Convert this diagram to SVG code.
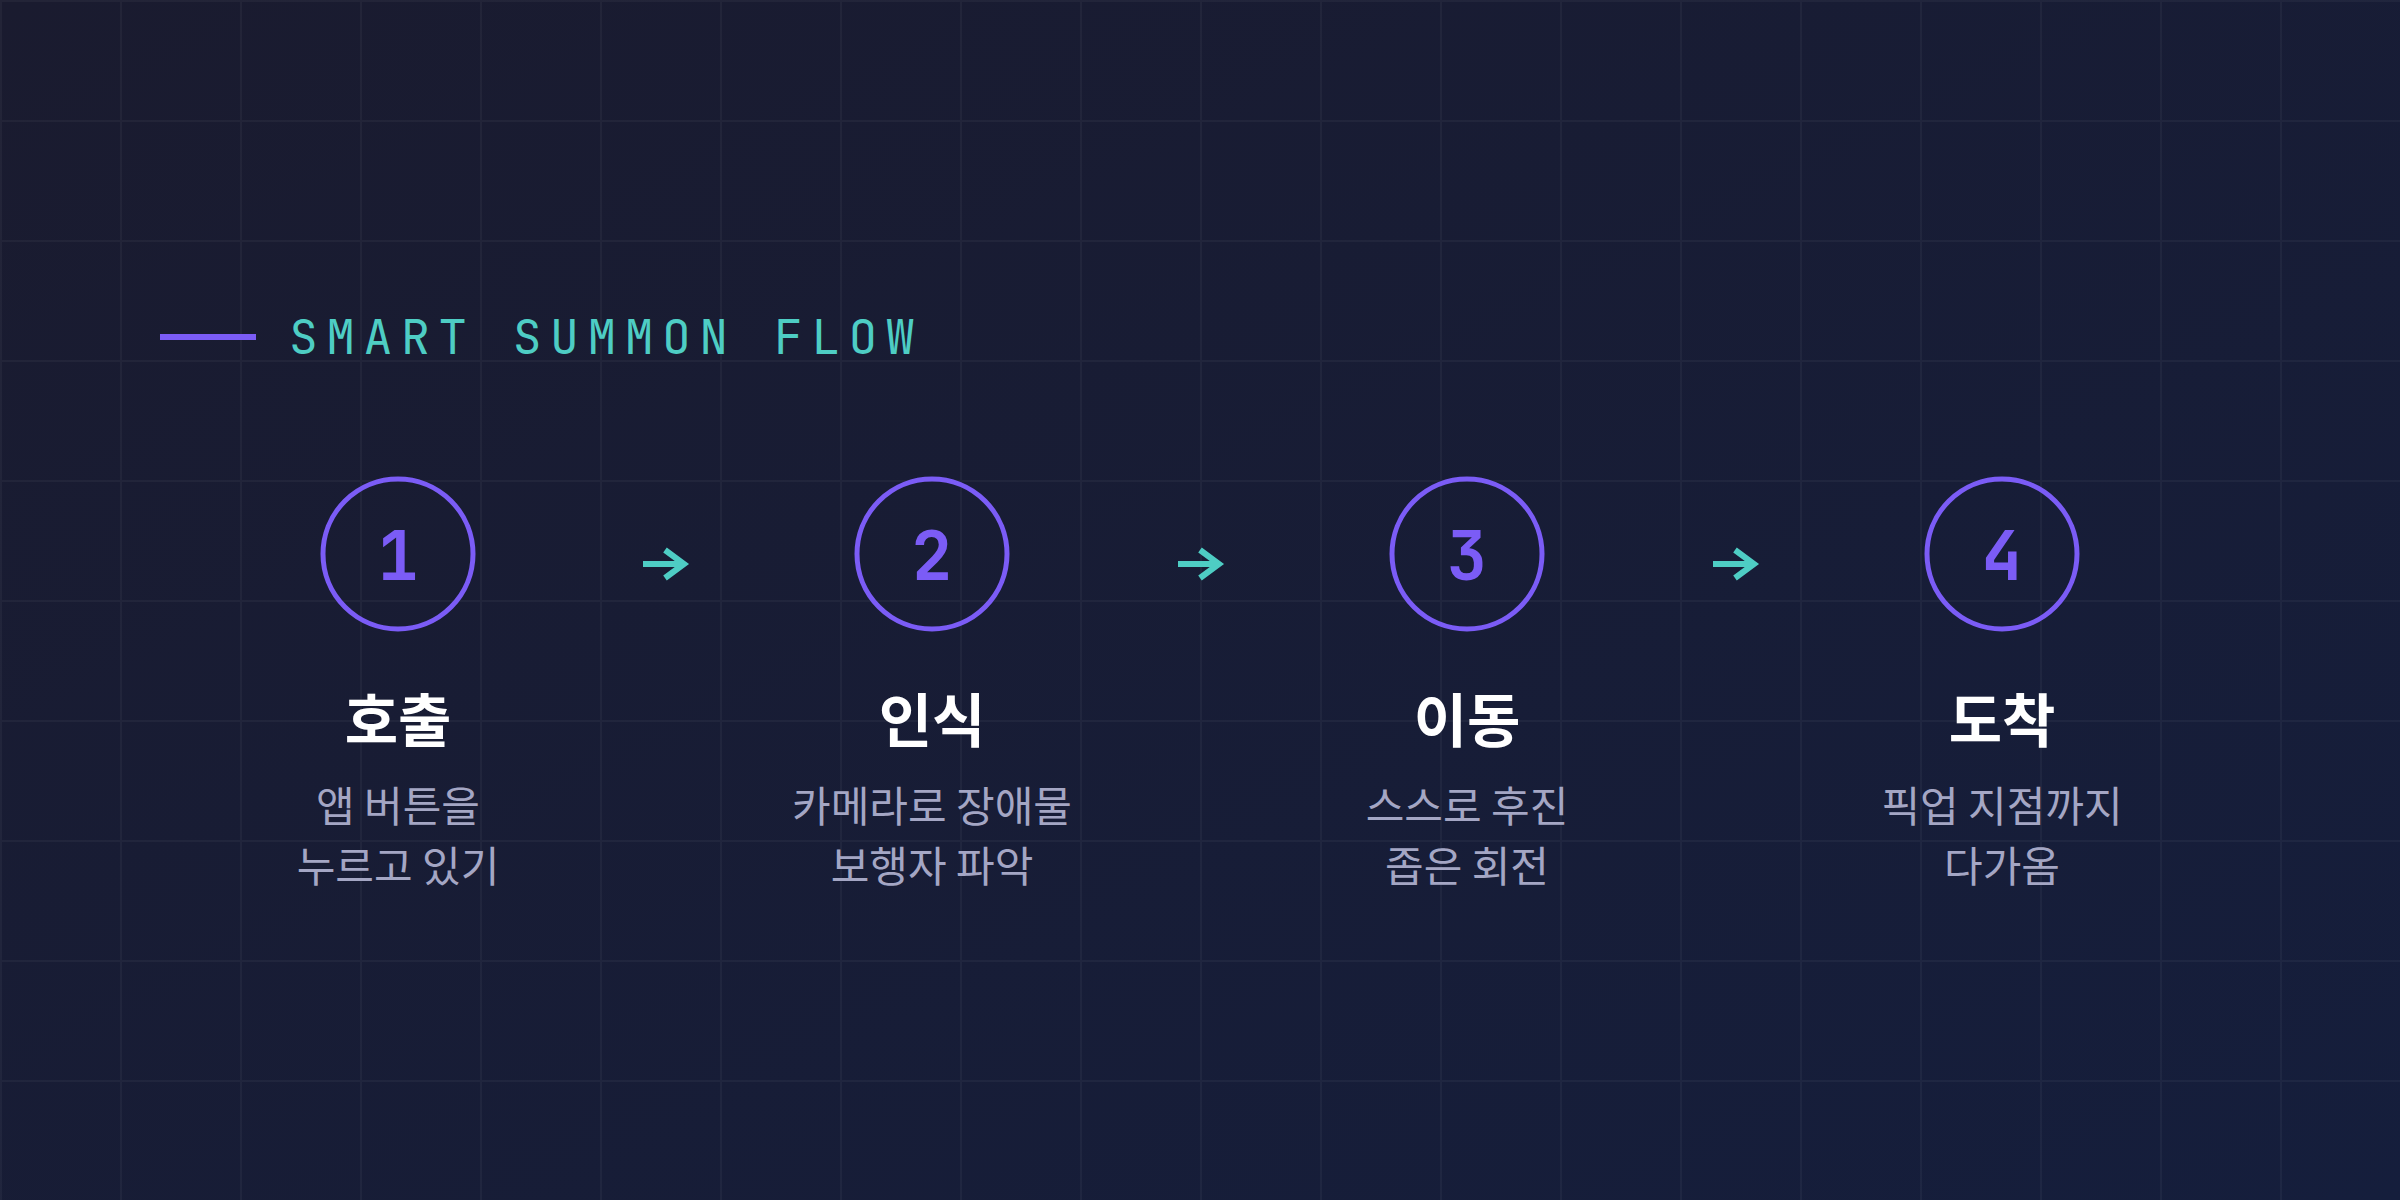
<svg xmlns="http://www.w3.org/2000/svg" width="2400" height="1200" viewBox="0 0 2400 1200">
<defs>
<linearGradient id="bg" x1="0" y1="0" x2="1" y2="1">
<stop offset="0" stop-color="#1a1b2f"/>
<stop offset="1" stop-color="#151e3c"/>
</linearGradient>
<pattern id="grid" x="0" y="0" width="120" height="120" patternUnits="userSpaceOnUse">
<rect x="0" y="0" width="2" height="120" fill="#ffffff" fill-opacity="0.04"/>
<rect x="2" y="0" width="118" height="2" fill="#ffffff" fill-opacity="0.04"/>
</pattern>
</defs>
<style>
.ring{fill:none;stroke:#7b5cf6;stroke-width:5}
.num{font-family:"JetBrains Mono","DejaVu Sans Mono",monospace;font-weight:700;font-size:68px;fill:#7b5cf6;text-anchor:middle}
.ttl{font-family:"Noto Sans CJK KR","Noto Sans",sans-serif;font-weight:700;font-size:58px;fill:#ffffff;text-anchor:middle}
.sub{font-family:"Noto Sans CJK KR","Noto Sans",sans-serif;font-weight:400;font-size:42px;fill:#a4a6c4;text-anchor:middle}
.arr{fill:none;stroke:#4ecdc4;stroke-width:6;stroke-linecap:butt;stroke-linejoin:miter}
.head{font-family:"JetBrains Mono","DejaVu Sans Mono",monospace;font-size:48px;fill:#4ecdc4;letter-spacing:8.5px}
</style>
<rect width="2400" height="1200" fill="url(#bg)"/>
<rect width="2400" height="1200" fill="url(#grid)"/>

<g id="header">
<rect x="160" y="334" width="96" height="6" fill="#7b5cf6"/>
<text class="head" x="289" y="354">SMART SUMMON FLOW</text>
</g>

<g id="connectors">
<path class="arr" d="M643 564 H684 M665 550 L684 564 L665 578"/>
<path class="arr" d="M1178 564 H1219 M1200 550 L1219 564 L1200 578"/>
<path class="arr" d="M1713 564 H1754 M1735 550 L1754 564 L1735 578"/>
</g>

<g id="step1">
<circle class="ring" cx="398" cy="554" r="75"/>
<text class="num" x="398" y="580">1</text>
<text class="ttl" x="398" y="742">호출</text>
<text class="sub" x="398" y="822">앱 버튼을</text>
<text class="sub" x="398" y="882">누르고 있기</text>
</g>

<g id="step2">
<circle class="ring" cx="932" cy="554" r="75"/>
<text class="num" x="932" y="580">2</text>
<text class="ttl" x="932" y="742">인식</text>
<text class="sub" x="932" y="822">카메라로 장애물</text>
<text class="sub" x="932" y="882">보행자 파악</text>
</g>

<g id="step3">
<circle class="ring" cx="1467" cy="554" r="75"/>
<text class="num" x="1467" y="580">3</text>
<text class="ttl" x="1467" y="742">이동</text>
<text class="sub" x="1467" y="822">스스로 후진</text>
<text class="sub" x="1467" y="882">좁은 회전</text>
</g>

<g id="step4">
<circle class="ring" cx="2002" cy="554" r="75"/>
<text class="num" x="2002" y="580">4</text>
<text class="ttl" x="2002" y="742">도착</text>
<text class="sub" x="2002" y="822">픽업 지점까지</text>
<text class="sub" x="2002" y="882">다가옴</text>
</g>
</svg>
